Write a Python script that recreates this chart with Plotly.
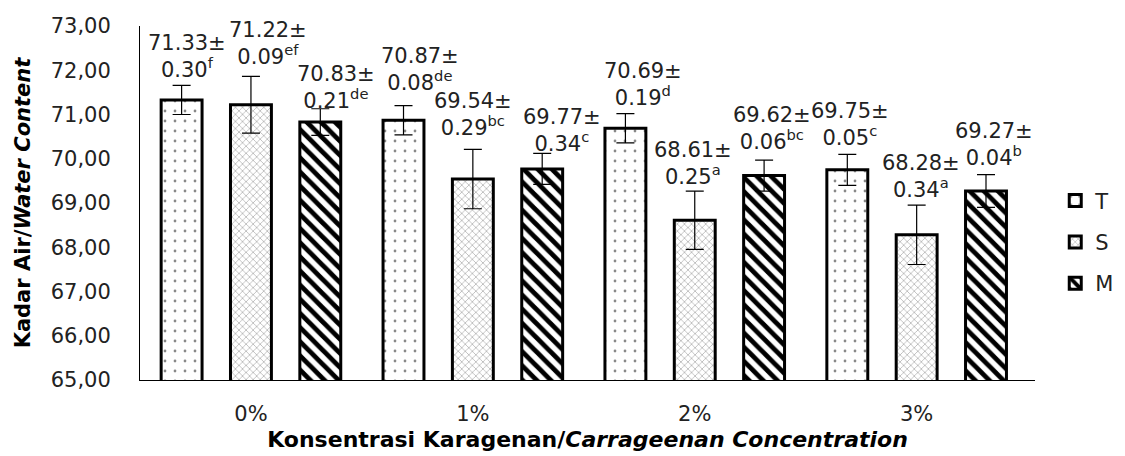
import plotly.graph_objects as go

categories = ["0%", "1%", "2%", "3%"]
series_names = ["T", "S", "M"]

T_values = [71.33, 70.87, 70.69, 69.75]
S_values = [71.22, 69.54, 68.61, 68.28]
M_values = [70.83, 69.77, 69.62, 69.27]

# error bar lengths as drawn in the picture
T_err = [0.33, 0.33, 0.33, 0.35]
S_err = [0.64, 0.67, 0.66, 0.67]
M_err = [0.30, 0.35, 0.35, 0.37]

# label text (mean ± sd with letters)
T_sd = ["0.30", "0.08", "0.19", "0.05"]
S_sd = ["0.09", "0.29", "0.25", "0.34"]
M_sd = ["0.21", "0.34", "0.06", "0.04"]
T_letters = ["f", "de", "d", "c"]
S_letters = ["ef", "bc", "a", "a"]
M_letters = ["de", "c", "bc", "b"]

y_tickvals = [65, 66, 67, 68, 69, 70, 71, 72, 73]
y_ticktext = ["65,00", "66,00", "67,00", "68,00", "69,00", "70,00", "71,00", "72,00", "73,00"]

FONT = "DejaVu Sans"
BARGAP = 0.0625
BARGROUPGAP = 0.41

values = [T_values, S_values, M_values]
errs = [T_err, S_err, M_err]
sds = [T_sd, S_sd, M_sd]
letters = [T_letters, S_letters, M_letters]
patterns = [
    dict(shape=".", fgcolor="#111111", bgcolor="white", size=10, solidity=0.06),
    dict(shape="x", fgcolor="#707070", bgcolor="white", size=5, solidity=0.3),
    dict(shape="\\", fgcolor="black", bgcolor="white", size=10, solidity=0.48, fgopacity=1),
]

# label offsets (pixels) relative to the top of each error bar
label_dx = [[5, 16, 18, 3], [17, 0, -2, 4], [16, 20, 8, 8]]
label_dy = [[1, 9, 2, 2], [5, 7, 0, 1], [-6, -5, 4, 3]]

fig = go.Figure()
for i, name in enumerate(series_names):
    fig.add_trace(go.Bar(
        name=name,
        x=categories,
        y=values[i],
        legendgroup=name,
        marker=dict(color="white", line=dict(color="black", width=3), pattern=patterns[i]),
        error_y=dict(type="data", array=errs[i], visible=True, color="black", thickness=1.2, width=9),
    ))

slot = (1 - BARGAP) / 3
annotations = []
for i in range(3):
    for j, cat in enumerate(categories):
        annotations.append(dict(
            x=j + (i - 1) * slot,
            y=values[i][j] + errs[i][j],
            xref="x", yref="y",
            text=f"{values[i][j]:.2f}±<br>{sds[i][j]}<sup>{letters[i][j]}</sup>",
            showarrow=False,
            xanchor="center", yanchor="bottom",
            xshift=label_dx[i][j], yshift=label_dy[i][j],
            font=dict(family=FONT, size=21, color="#222222"),
            align="center",
        ))

fig.update_layout(
    width=1125, height=456,
    margin=dict(l=140, r=90, t=26, b=76),
    paper_bgcolor="white", plot_bgcolor="white",
    barmode="group", bargap=BARGAP, bargroupgap=BARGROUPGAP,
    font=dict(family=FONT, size=21, color="#222222"),
    showlegend=True,
    legend=dict(xref="container", x=0.938, y=0.39, xanchor="left", yanchor="middle",
                font=dict(family=FONT, size=21, color="#222222"),
                tracegroupgap=11, itemwidth=30, bgcolor="rgba(0,0,0,0)"),
    annotations=annotations,
)
fig.update_xaxes(
    type="category",
    showline=True, linecolor="black", linewidth=1,
    showgrid=False, ticks="", ticklabelstandoff=15,
    tickfont=dict(family=FONT, size=21, color="#222222"),
    automargin=False,
    title=dict(text="<b>Konsentrasi Karagenan/<i>Carrageenan Concentration</i></b>",
               font=dict(family=FONT, size=22, color="black"), standoff=6),
)
fig.update_yaxes(
    range=[65, 73],
    tickvals=y_tickvals, ticktext=y_ticktext,
    showline=True, linecolor="black", linewidth=1,
    showgrid=False, zeroline=False, ticks="", ticklabelstandoff=24,
    tickfont=dict(family=FONT, size=21, color="#222222"),
    automargin=False,
    title=dict(text="<b>Kadar Air/<i>Water Content</i></b>",
               font=dict(family=FONT, size=21, color="black"), standoff=14),
)

fig.write_html("out.html", config={"displayModeBar": False},
               post_script="document.body.style.margin='0';")
